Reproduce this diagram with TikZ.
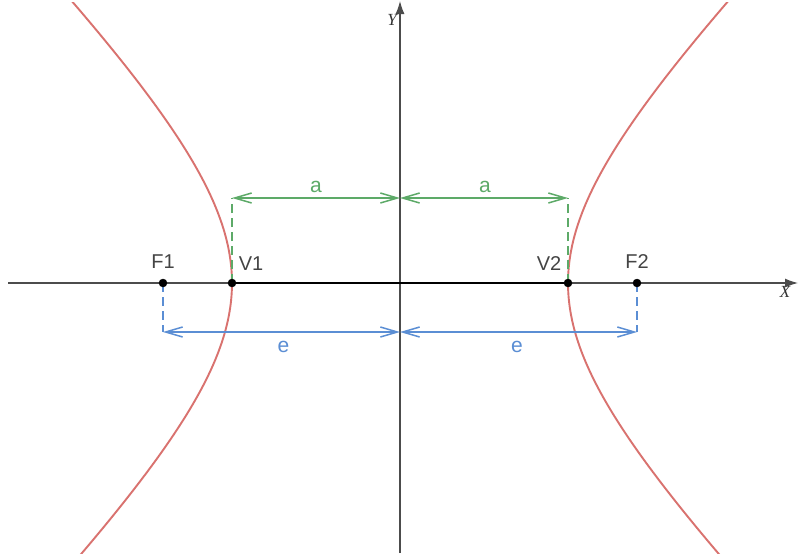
\documentclass[tikz,border=0pt]{standalone}
\usepackage{fontspec}
\setmainfont{Liberation Sans}
\newfontfamily\axisfont{Liberation Serif}
\usetikzlibrary{arrows.meta}
\definecolor{hred}{HTML}{D9726F}
\definecolor{dgreen}{HTML}{5DAA68}
\definecolor{dblue}{HTML}{5B8ED4}
\definecolor{lbl}{HTML}{444444}
\begin{document}
\begin{tikzpicture}[x=1pt,y=-1pt,
  axis/.style={draw=black!70, line width=1.2pt, -{Latex[length=13pt,width=9pt]}},
  curve/.style={draw=hred, line width=1.9pt},
  dimline/.style={line width=1.5pt, {Straight Barb[length=17pt,width=10pt,line width=1.5pt]}-{Straight Barb[length=17pt,width=10pt,line width=1.5pt]}},
  dashv/.style={line width=1.5pt, dash pattern=on 9pt off 5pt},
  pt/.style={circle, fill=black, draw=black, inner sep=0pt, minimum size=8pt},
  ptlabel/.style={text=lbl, font=\fontsize{20}{24}\selectfont, inner sep=0pt},
  dimlabel/.style={font=\fontsize{21}{25}\selectfont, inner sep=0pt},
  axlabel/.style={text=black!80, font=\axisfont\itshape\fontsize{17}{20}\selectfont, inner sep=0pt}]
\useasboundingbox (0,0) rectangle (798,558);
\fill[white] (0,0) rectangle (798,558);

% axes
\coordinate (O) at (400,283);
\coordinate (Xl) at (8,283);
\coordinate (Xr) at (798,283);
\coordinate (Yb) at (400,553);
\coordinate (Yt) at (400,1);
\draw[axis] (Xl) -- (Xr);
\draw[axis] (Yb) -- (Yt);
\node[axlabel] (Xlab) at (785,292) {X};
\node[axlabel] (Ylab) at (392,20) {Y};

% hyperbola
\begin{scope}
\clip (0,2) rectangle (798,553);
\draw[curve] plot[domain=-1.32:1.32, samples=120, variable=\t] ({400+168*cosh(\t)}, {283-168*sinh(\t)});
\draw[curve] plot[domain=-1.32:1.32, samples=120, variable=\t] ({400-168*cosh(\t)}, {283-168*sinh(\t)});
\end{scope}

% points
\coordinate (F1c) at (163,283);
\coordinate (V1c) at (232,283);
\coordinate (V2c) at (568,283);
\coordinate (F2c) at (637,283);

\draw[black, line width=2.2pt] (V1c) -- (V2c);

% green dimension (a)
\coordinate (ga) at (232,198);
\coordinate (gm) at (400,198);
\coordinate (gb) at (568,198);
\draw[dgreen, dashv] (V1c) -- (ga);
\draw[dgreen, dashv] (V2c) -- (gb);
\draw[dgreen, dimline] (ga) -- (gm);
\draw[dgreen, dimline] (gm) -- (gb);
\node[dimlabel, text=dgreen] (la1) at (316,187) {a};
\node[dimlabel, text=dgreen] (la2) at (485,187) {a};

% blue dimension (e)
\coordinate (ba) at (163,332);
\coordinate (bm) at (400,332);
\coordinate (bb) at (637,332);
\draw[dblue, dashv] (F1c) -- (ba);
\draw[dblue, dashv] (F2c) -- (bb);
\draw[dblue, dimline] (ba) -- (bm);
\draw[dblue, dimline] (bm) -- (bb);
\node[dimlabel, text=dblue] (le1) at (283.5,346.5) {e};
\node[dimlabel, text=dblue] (le2) at (517,346.5) {e};

% dots
\node[pt] (F1) at (F1c) {};
\node[pt] (V1) at (V1c) {};
\node[pt] (V2) at (V2c) {};
\node[pt] (F2) at (F2c) {};

\node[ptlabel] (F1l) at (163,262) {F1};
\node[ptlabel] (V1l) at (251,264) {V1};
\node[ptlabel] (V2l) at (549,264) {V2};
\node[ptlabel] (F2l) at (637,262) {F2};
\end{tikzpicture}
\end{document}
